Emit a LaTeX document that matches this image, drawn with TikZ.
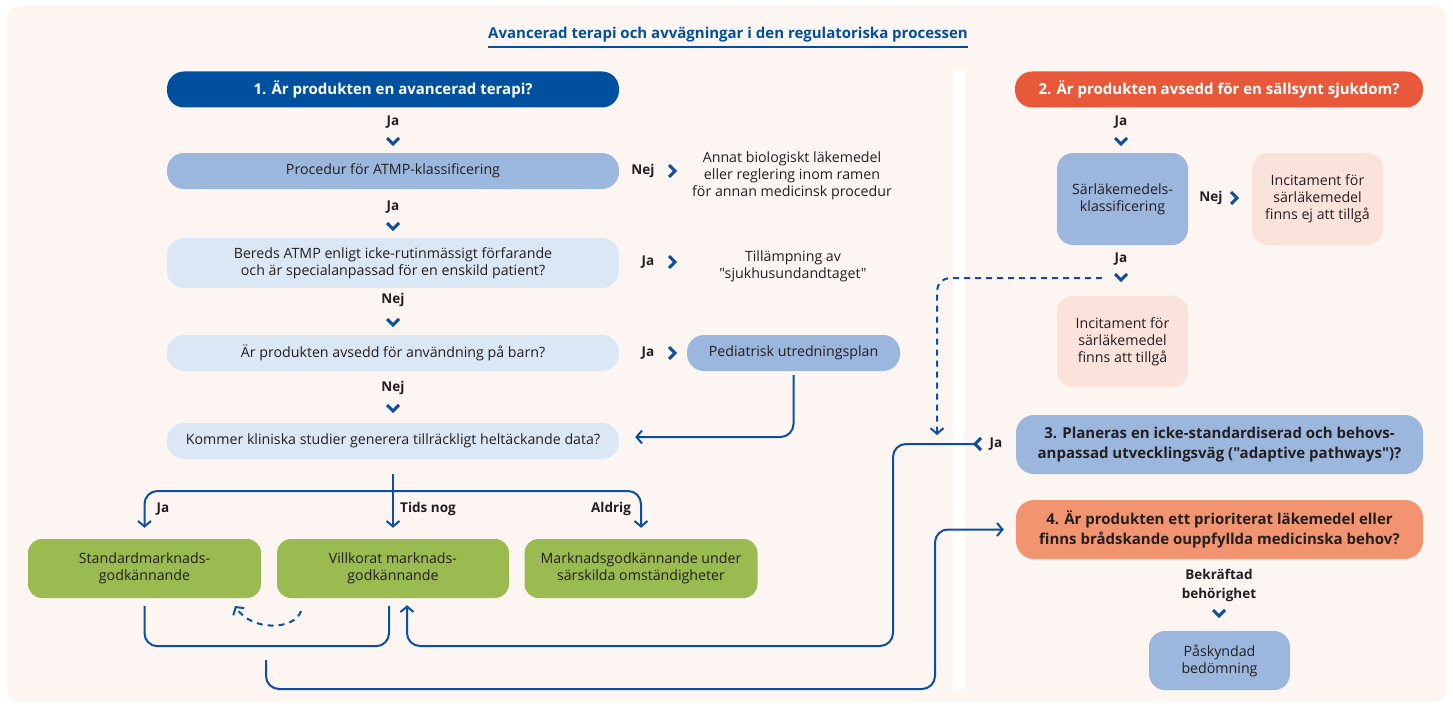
\documentclass[tikz,border=0pt]{standalone}
\usepackage{fontspec}
\setmainfont{Open Sans}[Ligatures=TeXOff]
\usetikzlibrary{arrows.meta}
\definecolor{bgc}{HTML}{FDF5F2}
\definecolor{dblue}{HTML}{0050A0}
\definecolor{lnblue}{HTML}{0B4EA2}
\definecolor{mblue}{HTML}{9CB7DE}
\definecolor{pblue}{HTML}{DCE7F5}
\definecolor{orng}{HTML}{E8593A}
\definecolor{salm}{HTML}{F2946F}
\definecolor{pnk}{HTML}{FBE2DA}
\definecolor{grn}{HTML}{99BB4F}
\definecolor{txt}{HTML}{231F20}
\newcommand\fbody{\fontsize{14.2}{17}\selectfont}
\newcommand\fhead{\fontsize{15}{20}\selectfont\bfseries}
\newcommand\flbl{\fontsize{13.5}{19}\selectfont\bfseries}
\tikzset{
  pill/.style={rounded corners=17pt, minimum height=36pt, inner sep=0pt, align=center, font=\fbody, text=txt},
  card/.style={rounded corners=16pt, inner sep=0pt, align=center, font=\fbody, text=txt},
  lbl/.style={font=\flbl, text=txt, inner sep=0pt, align=center},
  plain/.style={font=\fbody, text=txt, inner sep=0pt, align=center},
  conn/.style={draw=lnblue, line width=2pt, rounded corners=13pt},
  tip/.style={-{Straight Barb[length=5.5pt,width=13pt]}},
  dconn/.style={conn, dash pattern=on 6pt off 5pt},
  chev/.style={draw=lnblue, line width=3pt},
  chevd/.pic={\draw[chev] (-6,-3) -- (0,3) -- (6,-3);},
  chevr/.pic={\draw[chev] (-3,-6) -- (3,0) -- (-3,6);},
  chevl/.pic={\draw[chev] (3,-6) -- (-3,0) -- (3,6);}
}
\begin{document}
\begin{tikzpicture}[x=1pt,y=-1pt]
\useasboundingbox (0,0) rectangle (1453,706);
\fill[white] (0,0) rectangle (1453,706);
\fill[bgc, rounded corners=12pt] (7,6) rectangle (1447,702);
\fill[white] (953,70) rectangle (965,690);

% title
\node[anchor=base, font=\fontsize{15}{18}\selectfont\bfseries, text=dblue, inner sep=0pt] (title) at (728,39) {Avancerad terapi och avvägningar i den regulatoriska processen};
\draw[dblue, line width=2pt] ([yshift=-8pt]title.base west) -- ([yshift=-8pt]title.base east);

% left column
\node[pill, fill=dblue, minimum width=452pt, text=white, font=\fhead] (q1) at (393,89.5) {1. Är produkten en avancerad terapi?};
\node[pill, fill=mblue, minimum width=452pt] (atmp) at (393,171) {Procedur för ATMP-klassificering};
\node[pill, fill=pblue, minimum width=452pt, minimum height=50pt] (bereds) at (393,263) {Bereds ATMP enligt icke-rutinmässigt förfarande\\och är specialanpassad för en enskild patient?};
\node[pill, fill=pblue, minimum width=452pt] (barn) at (393,353) {Är produkten avsedd för användning på barn?};
\node[pill, fill=pblue, minimum width=452pt] (klin) at (393,441) {Kommer kliniska studier generera tillräckligt heltäckande data?};
\node[pill, fill=mblue, minimum width=213pt] (ped) at (793.5,353) {Pediatrisk utredningsplan};
\node[plain] (annat) at (792,176) {Annat biologiskt läkemedel\\eller reglering inom ramen\\för annan medicinsk procedur};
\node[plain] (tillamp) at (793,266) {Tillämpning av\\"sjukhusundandtaget"};

\node[lbl] (l1) at (393,122) {Ja};
\pic at (393,141) {chevd};
\node[lbl] (l2) at (393,207) {Ja};
\pic at (393,226) {chevd};
\node[lbl] (l3) at (393,300) {Nej};
\pic at (393,322) {chevd};
\node[lbl] (l4) at (393,388) {Nej};
\pic at (393,408) {chevd};
\node[lbl] (l5) at (643,171) {Nej};
\pic at (672,171) {chevr};
\node[lbl] (l6) at (648,262) {Ja};
\pic at (672,262) {chevr};
\node[lbl] (l7) at (648,353) {Ja};
\pic at (672,353) {chevr};

% right column
\node[pill, fill=orng, minimum width=408pt, text=white, font=\fhead] (q2) at (1219,89.5) {2. Är produkten avsedd för en sällsynt sjukdom?};
\node[card, fill=mblue, minimum width=131pt, minimum height=92pt] (sarl) at (1122.5,199) {Särläkemedels-\\klassificering};
\node[card, fill=pnk, minimum width=131pt, minimum height=92pt] (incej) at (1317.5,199) {Incitament för\\särläkemedel\\finns ej att tillgå};
\node[card, fill=pnk, minimum width=131pt, minimum height=91pt] (inc) at (1122.5,341.5) {Incitament för\\särläkemedel\\finns att tillgå};
\node[card, fill=mblue, minimum width=407pt, minimum height=59pt, rounded corners=18pt, font=\fhead] (q3) at (1219.5,444.5) {3. Planeras en icke-standardiserad och behovs-\\anpassad utvecklingsväg ("adaptive pathways")?};
\node[card, fill=salm, minimum width=407pt, minimum height=59pt, rounded corners=18pt, font=\fhead] (q4) at (1219.5,529.5) {4. Är produkten ett prioriterat läkemedel eller\\finns brådskande ouppfyllda medicinska behov?};
\node[card, fill=mblue, minimum width=141pt, minimum height=59pt] (pask) at (1219.5,660.5) {Påskyndad\\bedömning};

\node[lbl] (r1) at (1121,122) {Ja};
\pic at (1121,141) {chevd};
\node[lbl] (r2) at (1211,198) {Nej};
\pic at (1234,198) {chevr};
\node[lbl] (r3) at (1121,259) {Ja};
\pic at (1121,277) {chevd};
\node[lbl] (r4) at (996,444) {Ja};
\pic at (978,444) {chevl};
\node[lbl] (r5) at (1219,585.5) {Bekräftad\\behörighet};
\pic at (1219,613) {chevd};

% outcomes
\node[card, fill=grn, minimum width=233pt, minimum height=59pt, rounded corners=14pt] (std) at (144.5,568.5) {Standardmarknads-\\godkännande};
\node[card, fill=grn, minimum width=232pt, minimum height=59pt, rounded corners=14pt] (vill) at (393,568.5) {Villkorat marknads-\\godkännande};
\node[card, fill=grn, minimum width=233pt, minimum height=59pt, rounded corners=14pt] (mgu) at (641,568.5) {Marknadsgodkännande under\\särskilda omständigheter};

\node[lbl] (t1) at (163,509) {Ja};
\node[lbl] (t2) at (428,509) {Tids nog};
\node[lbl] (t3) at (611,509) {Aldrig};

% connectors
\draw[conn,tip] ([yshift=-4pt]ped.south) |- ([xshift=16pt,yshift=4pt]klin.east);
\coordinate (split) at (393,491);
\draw[conn,tip] ([yshift=-15pt]klin.south) -- ([yshift=11pt]vill.north);
\draw[conn,tip] (split) -| ([yshift=11pt]std.north);
\draw[conn,tip] (split) -| ([yshift=11pt]mgu.north);
\draw[conn] ([yshift=-8pt]std.south) -- ++(0,40) -| ([xshift=-4pt,yshift=-8pt]vill.south);
\coordinate (a1) at (301,611);
\coordinate (a2) at (235,606);
\draw[dconn,tip] (a1) .. controls (295,630) and (252,632) .. (a2);
\coordinate (jaend) at (975,444);
\coordinate (jdown) at (893,646);
\draw[conn,tip] (jaend) -| (jdown) -| ([xshift=14pt,yshift=-7pt]vill.south);
\coordinate (bstart) at (266,660);
\coordinate (bcorner) at (935,689);
\draw[conn,tip] (bstart) |- (bcorner) |- ([xshift=-12pt]q4.west);
\coordinate (dstart) at (1102,278);
\coordinate (dend) at (937,435);
\draw[dconn,tip] (dstart) -| (dend);
\end{tikzpicture}
\end{document}
